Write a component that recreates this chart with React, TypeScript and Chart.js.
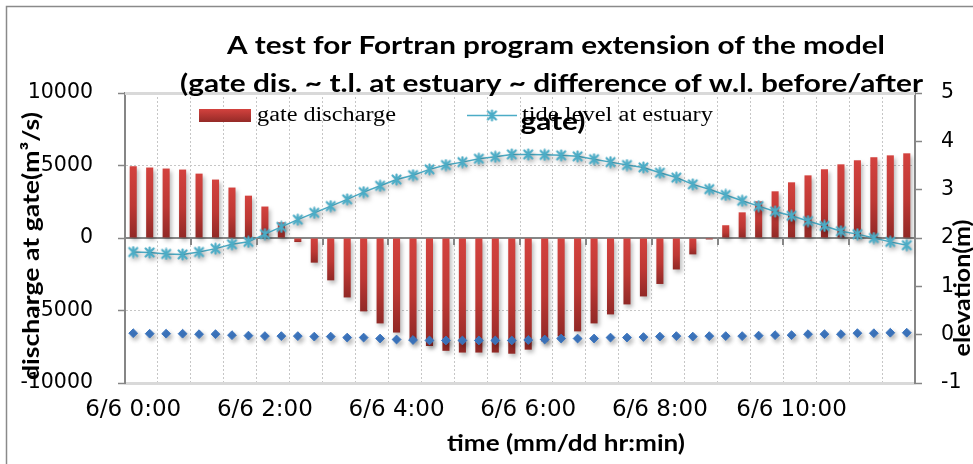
import React, { useEffect, useRef } from 'react';
import { Chart, registerables } from 'chart.js';

Chart.register(...registerables);

const timeLabels = [
  '6/6 0:00', '6/6 0:15', '6/6 0:30', '6/6 0:45', '6/6 1:00', '6/6 1:15', '6/6 1:30', '6/6 1:45',
  '6/6 2:00', '6/6 2:15', '6/6 2:30', '6/6 2:45', '6/6 3:00', '6/6 3:15', '6/6 3:30', '6/6 3:45',
  '6/6 4:00', '6/6 4:15', '6/6 4:30', '6/6 4:45', '6/6 5:00', '6/6 5:15', '6/6 5:30', '6/6 5:45',
  '6/6 6:00', '6/6 6:15', '6/6 6:30', '6/6 6:45', '6/6 7:00', '6/6 7:15', '6/6 7:30', '6/6 7:45',
  '6/6 8:00', '6/6 8:15', '6/6 8:30', '6/6 8:45', '6/6 9:00', '6/6 9:15', '6/6 9:30', '6/6 9:45',
  '6/6 10:00', '6/6 10:15', '6/6 10:30', '6/6 10:45', '6/6 11:00', '6/6 11:15', '6/6 11:30', '6/6 11:45',
];

// gate discharge (m3/s), left axis
const gateDischarge = [
  4950, 4860, 4790, 4720, 4440, 4030, 3480, 2920, 2170, 1080,
  -280, -1700, -2920, -4100, -5060, -5890, -6520, -7050, -7450, -7780,
  -7900, -7900, -7900, -7980, -7700, -7130, -6790, -6440, -5890, -5270,
  -4580, -4030, -3170, -2170, -1130, -100, 880, 1770, 2530, 3220,
  3840, 4320, 4740, 5080, 5360, 5570, 5700, 5840,
];

// tide level at estuary (m), right axis
const tideLevel = [
  1.71, 1.70, 1.67, 1.66, 1.71, 1.78, 1.87, 1.92, 2.08, 2.23,
  2.38, 2.52, 2.66, 2.80, 2.95, 3.08, 3.21, 3.30, 3.42, 3.51,
  3.57, 3.64, 3.68, 3.73, 3.73, 3.72, 3.71, 3.69, 3.63, 3.57,
  3.51, 3.46, 3.35, 3.25, 3.11, 3.01, 2.89, 2.77, 2.66, 2.55,
  2.46, 2.35, 2.25, 2.14, 2.08, 2.00, 1.92, 1.85,
];

// difference of w.l. before/after gate (m), right axis
const wlDifference = [
  0.03, 0.02, 0.02, 0.02, 0.01, 0.01, -0.01, -0.02, -0.03, -0.03,
  -0.03, -0.04, -0.04, -0.06, -0.06, -0.08, -0.10, -0.11, -0.12, -0.12,
  -0.12, -0.12, -0.12, -0.12, -0.11, -0.10, -0.08, -0.08, -0.08, -0.06,
  -0.06, -0.05, -0.04, -0.03, -0.04, -0.03, -0.03, -0.03, -0.02, -0.01,
  -0.01, 0.01, 0.01, 0.01, 0.03, 0.03, 0.04, 0.04,
];

const titleLines = [
  'A test for Fortran program extension of the model',
  '(gate dis. ~ t.l. at estuary ~ difference of w.l. before/after',
  'gate)',
];
const legendLabels = ['gate discharge', 'tide level at estuary'];
const leftAxisTitle = 'discharge at gate(m\u00B3/s)';
const rightAxisTitle = 'elevation(m)';
const xAxisTitle = 'time (mm/dd hr:min)';

const TIDE = '#4BACC6';
const DIAMOND = '#3D76BF';
const AXIS = '#868686';
const GRID = '#c6c6c6';

function makeAsterisk(): HTMLCanvasElement {
  const c = document.createElement('canvas');
  c.width = 13;
  c.height = 13;
  const g = c.getContext('2d')!;
  g.strokeStyle = TIDE;
  g.lineWidth = 2.2;
  g.lineCap = 'round';
  g.beginPath();
  g.moveTo(2.5, 2.5); g.lineTo(10.5, 10.5);
  g.moveTo(10.5, 2.5); g.lineTo(2.5, 10.5);
  g.moveTo(6.5, 1.5); g.lineTo(6.5, 11.5);
  g.stroke();
  return c;
}

function fitText(
  ctx: CanvasRenderingContext2D, text: string, x: number, y: number,
  font: string, width: number, align: CanvasTextAlign, rotate = 0, baseline: CanvasTextBaseline = 'alphabetic',
) {
  ctx.save();
  ctx.font = font;
  const w = ctx.measureText(text).width;
  const s = width / w;
  ctx.translate(x, y);
  if (rotate) ctx.rotate(rotate);
  ctx.scale(s, 1);
  ctx.textAlign = align;
  ctx.textBaseline = baseline;
  ctx.fillStyle = '#000';
  ctx.fillText(text, 0, 0);
  ctx.restore();
}

export default function App() {
  const ref = useRef<HTMLCanvasElement | null>(null);

  useEffect(() => {
    if (!ref.current) return;
    const asterisk = makeAsterisk();

    const barGradient = (c: any) => {
      const chart = c.chart;
      const y = chart.scales?.y;
      if (!y || c.type !== 'data' || typeof c.raw !== 'number') return '#c0392b';
      const p0 = y.getPixelForValue(0);
      const p1 = y.getPixelForValue(c.raw);
      if (!isFinite(p0) || !isFinite(p1)) return '#c0392b';
      const top = Math.min(p0, p1);
      const bot = Math.max(p0, p1);
      if (bot - top < 1) return '#b53a37';
      const g = chart.ctx.createLinearGradient(0, top, 0, bot);
      g.addColorStop(0, '#d3423e');
      g.addColorStop(0.55, '#bd3834');
      g.addColorStop(1, '#912926');
      return g;
    };

    const bgPlugin = {
      id: 'bg',
      beforeDraw(chart: any) {
        const ctx = chart.ctx;
        ctx.save();
        ctx.fillStyle = '#fff';
        ctx.fillRect(0, 0, chart.width, chart.height);
        ctx.strokeStyle = '#8a8a8a';
        ctx.lineWidth = 1.5;
        ctx.strokeRect(6.5, 6.5, chart.width + 20, chart.height + 20);
        ctx.restore();
      },
      beforeDatasetsDraw(chart: any) {
        const ctx = chart.ctx;
        const a = chart.chartArea;
        ctx.save();
        ctx.strokeStyle = '#d9d9d9';
        ctx.lineWidth = 3;
        ctx.beginPath();
        ctx.moveTo(a.left, a.top + 0.5);
        ctx.lineTo(a.right, a.top + 0.5);
        ctx.stroke();
        ctx.restore();
      },
      afterDatasetsDraw(chart: any) {
        // tick marks on the horizontal axis line (crosses at 0), one per hour
        const ctx = chart.ctx;
        const xs = chart.scales.x;
        const ys = chart.scales.y;
        const y0 = Math.round(ys.getPixelForValue(0));
        const step = (xs.right - xs.left) / timeLabels.length;
        ctx.save();
        ctx.strokeStyle = AXIS;
        ctx.lineWidth = 2;
        ctx.beginPath();
        for (let i = 4; i < timeLabels.length; i += 4) {
          const bx = Math.round(xs.left + step * i);
          ctx.moveTo(bx, y0);
          ctx.lineTo(bx, y0 + 7);
        }
        ctx.stroke();
        ctx.restore();
      },
    };

    const shadowPlugin = {
      id: 'shadow',
      beforeDatasetDraw(chart: any) {
        const ctx = chart.ctx;
        ctx.save();
        ctx.shadowColor = 'rgba(0,0,0,0.28)';
        ctx.shadowBlur = 4;
        ctx.shadowOffsetX = 2;
        ctx.shadowOffsetY = 3;
      },
      afterDatasetDraw(chart: any) {
        chart.ctx.restore();
      },
    };

    const textPlugin = {
      id: 'texts',
      afterDraw(chart: any) {
        const ctx = chart.ctx;
        // legend
        ctx.save();
        const lg = ctx.createLinearGradient(0, 109, 0, 122);
        lg.addColorStop(0, '#d3423e');
        lg.addColorStop(1, '#952a27');
        ctx.fillStyle = lg;
        ctx.fillRect(199, 109, 52, 13);
        ctx.strokeStyle = TIDE;
        ctx.lineWidth = 1.5;
        ctx.beginPath();
        ctx.moveTo(467, 115.5);
        ctx.lineTo(517, 115.5);
        ctx.stroke();
        ctx.drawImage(asterisk, 492 - 6.5, 115.5 - 6.5);
        ctx.restore();
        fitText(ctx, legendLabels[0], 257, 120.5, '20px "Liberation Serif"', 139, 'left');
        fitText(ctx, legendLabels[1], 522, 120.5, '20px "Liberation Serif"', 191, 'left');
        // title
        const tf = 'bold 25px Lato';
        fitText(ctx, titleLines[0], 556, 53.5, tf, 658, 'center');
        fitText(ctx, titleLines[1], 551.5, 91.5, tf, 743, 'center');
        fitText(ctx, titleLines[2], 553, 130, tf, 65, 'center');
        // axis titles
        const af = 'bold 23px Lato';
        fitText(ctx, leftAxisTitle, 32, 246, af, 268, 'center', -Math.PI / 2, 'middle');
        fitText(ctx, rightAxisTitle, 963, 288, af, 137, 'center', -Math.PI / 2, 'middle');
        fitText(ctx, xAxisTitle, 566, 451, af, 238, 'center');
      },
    };

    const tickFont = { family: '"DejaVu Sans"', size: 20.5 };

    const chart = new Chart(ref.current, {
      type: 'bar',
      data: {
        labels: timeLabels,
        datasets: [
          {
            type: 'line',
            label: legendLabels[1],
            data: tideLevel,
            yAxisID: 'y2',
            xAxisID: 'x',
            borderColor: TIDE,
            borderWidth: 1.5,
            pointStyle: asterisk as any,
            pointRadius: 5,
            tension: 0,
            order: 1,
          } as any,
          {
            type: 'line',
            label: 'difference of w.l. before/after gate',
            data: wlDifference,
            yAxisID: 'y2',
            xAxisID: 'x',
            showLine: false,
            pointStyle: 'rectRot',
            pointRadius: 4.4,
            pointBackgroundColor: DIAMOND,
            pointBorderColor: DIAMOND,
            pointBorderWidth: 1,
            order: 2,
          } as any,
          {
            type: 'bar',
            label: legendLabels[0],
            data: gateDischarge,
            yAxisID: 'y',
            xAxisID: 'x',
            backgroundColor: barGradient,
            borderWidth: 0,
            barPercentage: 0.43,
            categoryPercentage: 1,
            order: 3,
          } as any,
        ],
      },
      options: {
        responsive: false,
        animation: false,
        events: [],
        layout: { padding: { top: 93, left: 8, right: 0, bottom: 0 } },
        plugins: {
          legend: { display: false },
          title: { display: false },
          tooltip: { enabled: false },
        },
        scales: {
          x: {
            type: 'category',
            position: 'bottom',
            offset: true,
            grid: {
              offset: true,
              drawTicks: false,
              lineWidth: 1,
              color: (c: any) => (c.index % 2 === 0 && c.index > 0 && c.index < 48 ? GRID : 'transparent'),
            },
            border: { display: true, color: '#d9d9d9', width: 3, dash: [2, 2] },
            ticks: {
              autoSkip: false,
              maxRotation: 0,
              minRotation: 0,
              padding: 13,
              color: '#000',
              font: { family: '"DejaVu Sans"', size: 23 },
              callback: (_v: any, i: number) => (i % 8 === 0 ? timeLabels[i] : ''),
            },
            afterFit: (s: any) => { s.height = 81; },
          },
          x2: {
            type: 'category',
            position: { y: 0 } as any,
            offset: true,
            grid: { display: false, offset: true },
            border: { display: true, color: AXIS, width: 2 },
            ticks: { display: false, autoSkip: false },
          },
          y: {
            type: 'linear',
            position: 'left',
            min: -10000,
            max: 10000,
            ticks: {
              stepSize: 5000,
              padding: 25,
              color: '#000',
              font: tickFont,
              callback: (v: any) => String(v),
            },
            grid: {
              drawTicks: true,
              tickLength: 7,
              tickWidth: 1.5,
              tickColor: AXIS,
              lineWidth: 1,
              color: (c: any) => (c.tick && Math.abs(c.tick.value) === 5000 ? GRID : 'transparent'),
            },
            border: { display: true, color: AXIS, width: 2, dash: [2, 2] },
            afterFit: (s: any) => { s.width = 117; },
          },
          y2: {
            type: 'linear',
            position: 'right',
            min: -1,
            max: 5,
            ticks: { stepSize: 1, padding: 19, color: '#000', font: tickFont, callback: (v: any) => String(v) },
            grid: {
              drawOnChartArea: false,
              drawTicks: true,
              tickLength: 7,
              tickWidth: 1.5,
              tickColor: AXIS,
            },
            border: { display: true, color: AXIS, width: 2 },
            afterFit: (s: any) => { s.width = 58; },
          },
        },
      } as any,
      plugins: [bgPlugin, shadowPlugin, textPlugin],
    });

    return () => chart.destroy();
  }, []);

  return (
    <div style={{ position: 'absolute', left: 0, top: 0, width: 973, height: 464 }}>
      <canvas ref={ref} width={973} height={464} style={{ display: 'block', width: 973, height: 464 }} />
    </div>
  );
}
